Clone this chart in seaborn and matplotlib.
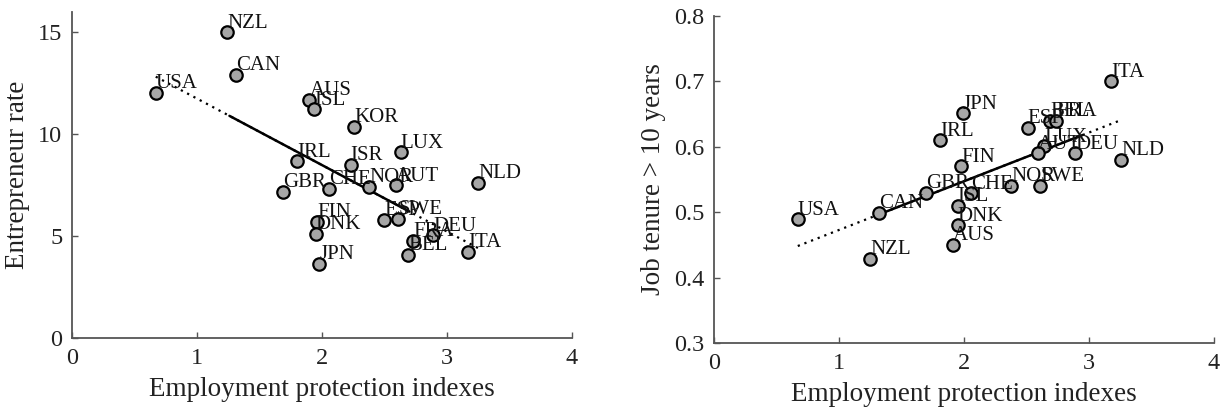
import numpy as np
import pandas as pd
import matplotlib
matplotlib.use("Agg")
import matplotlib.pyplot as plt
import seaborn as sns

# ---- Data ----
left_countries = ["NZL", "CAN", "USA", "AUS", "ISL", "KOR", "IRL", "ISR", "GBR", "CHE",
                  "LUX", "NOR", "AUT", "NLD", "ESP", "SWE", "FIN", "DNK", "JPN", "FRA",
                  "DEU", "BEL", "ITA"]
left_epl = [1.24, 1.31, 0.67, 1.90, 1.94, 2.26, 1.80, 2.23, 1.69, 2.06,
            2.63, 2.38, 2.59, 3.25, 2.50, 2.61, 1.96, 1.95, 1.98, 2.73,
            2.89, 2.69, 3.17]
left_entre = [15.0, 12.93, 12.04, 11.7, 11.24, 10.36, 8.68, 8.51, 7.17, 7.34,
              9.13, 7.42, 7.5, 7.63, 5.82, 5.85, 5.70, 5.13, 3.66, 4.77,
              5.05, 4.10, 4.23]

right_countries = ["JPN", "IRL", "FIN", "GBR", "CHE", "ISL", "CAN", "USA", "DNK", "NZL",
                   "AUS", "ITA", "ESP", "BEL", "FRA", "LUX", "AUT", "DEU", "NLD", "NOR",
                   "SWE"]
right_epl = [1.99, 1.81, 1.98, 1.70, 2.06, 1.95, 1.32, 0.67, 1.95, 1.25,
             1.91, 3.18, 2.51, 2.69, 2.74, 2.64, 2.59, 2.89, 3.26, 2.38,
             2.61]
right_tenure = [0.651, 0.610, 0.570, 0.530, 0.529, 0.510, 0.4995, 0.489, 0.480, 0.429,
                0.450, 0.700, 0.629, 0.640, 0.640, 0.601, 0.590, 0.590, 0.580, 0.540,
                0.540]

left_solid_range = [1.26, 2.70]
right_solid_range = [1.32, 2.95]

sns.set_theme(style="ticks")
plt.rcParams["font.family"] = ["Liberation Serif", "DejaVu Serif"]
plt.rcParams["mathtext.fontset"] = "stix"

fig = plt.figure(figsize=(12.25, 4.18), dpi=100)
ax1 = fig.add_axes([0.0588, 0.191, 0.408, 0.780])
ax2 = fig.add_axes([0.5829, 0.179, 0.408, 0.783])

SPINE = "#555555"


def panel(ax, names, xs, ys, solid, ylim, yticks, yticklabels, ylabel):
    df = pd.DataFrame({"x": xs, "y": ys, "c": names})
    # regression line
    b, a = np.polyfit(df["x"], df["y"], 1)
    xd = np.array([df["x"].min(), df["x"].max()])
    ax.plot(xd, a + b * xd, color="black", lw=1.6, ls=(0, (1, 2.2)), zorder=2)
    xs_ = np.array(solid)
    ax.plot(xs_, a + b * xs_, color="black", lw=1.8, ls="-", zorder=2)
    sns.scatterplot(data=df, x="x", y="y", ax=ax, s=80, color="#a6a6a6",
                    edgecolor="black", linewidth=1.6, zorder=3, legend=False)
    for _, r in df.iterrows():
        ax.annotate(r["c"], (r["x"], r["y"]), xytext=(0, 3.3), textcoords="offset points",
                    ha="left", va="baseline", fontsize=15, color="#111111", zorder=4)
    ax.set_xlim(0, 4)
    ax.set_ylim(*ylim)
    ax.set_xticks([0, 1, 2, 3, 4])
    ax.set_xticklabels(["0", "1", "2", "3", "4"])
    ax.set_yticks(yticks)
    ax.set_yticklabels(yticklabels)
    ax.set_xlabel("Employment protection indexes", fontsize=19.5, color="#222222", labelpad=6)
    ax.set_ylabel(ylabel, fontsize=19.5, color="#222222", labelpad=6)
    ax.tick_params(direction="in", length=4, width=1, color=SPINE, labelsize=17.5,
                   labelcolor="#222222", pad=7)
    for s in ["top", "right"]:
        ax.spines[s].set_visible(False)
    for s in ["left", "bottom"]:
        ax.spines[s].set_color(SPINE)
        ax.spines[s].set_linewidth(1.3)


panel(ax1, left_countries, left_epl, left_entre, left_solid_range,
      (0, 16), [0, 5, 10, 15], ["0", "5", "10", "15"], "Entrepreneur rate")
panel(ax2, right_countries, right_epl, right_tenure, right_solid_range,
      (0.3, 0.8), [0.3, 0.4, 0.5, 0.6, 0.7, 0.8],
      ["0.3", "0.4", "0.5", "0.6", "0.7", "0.8"], "Job tenure > 10 years")

fig.savefig("out.png", dpi=100)
